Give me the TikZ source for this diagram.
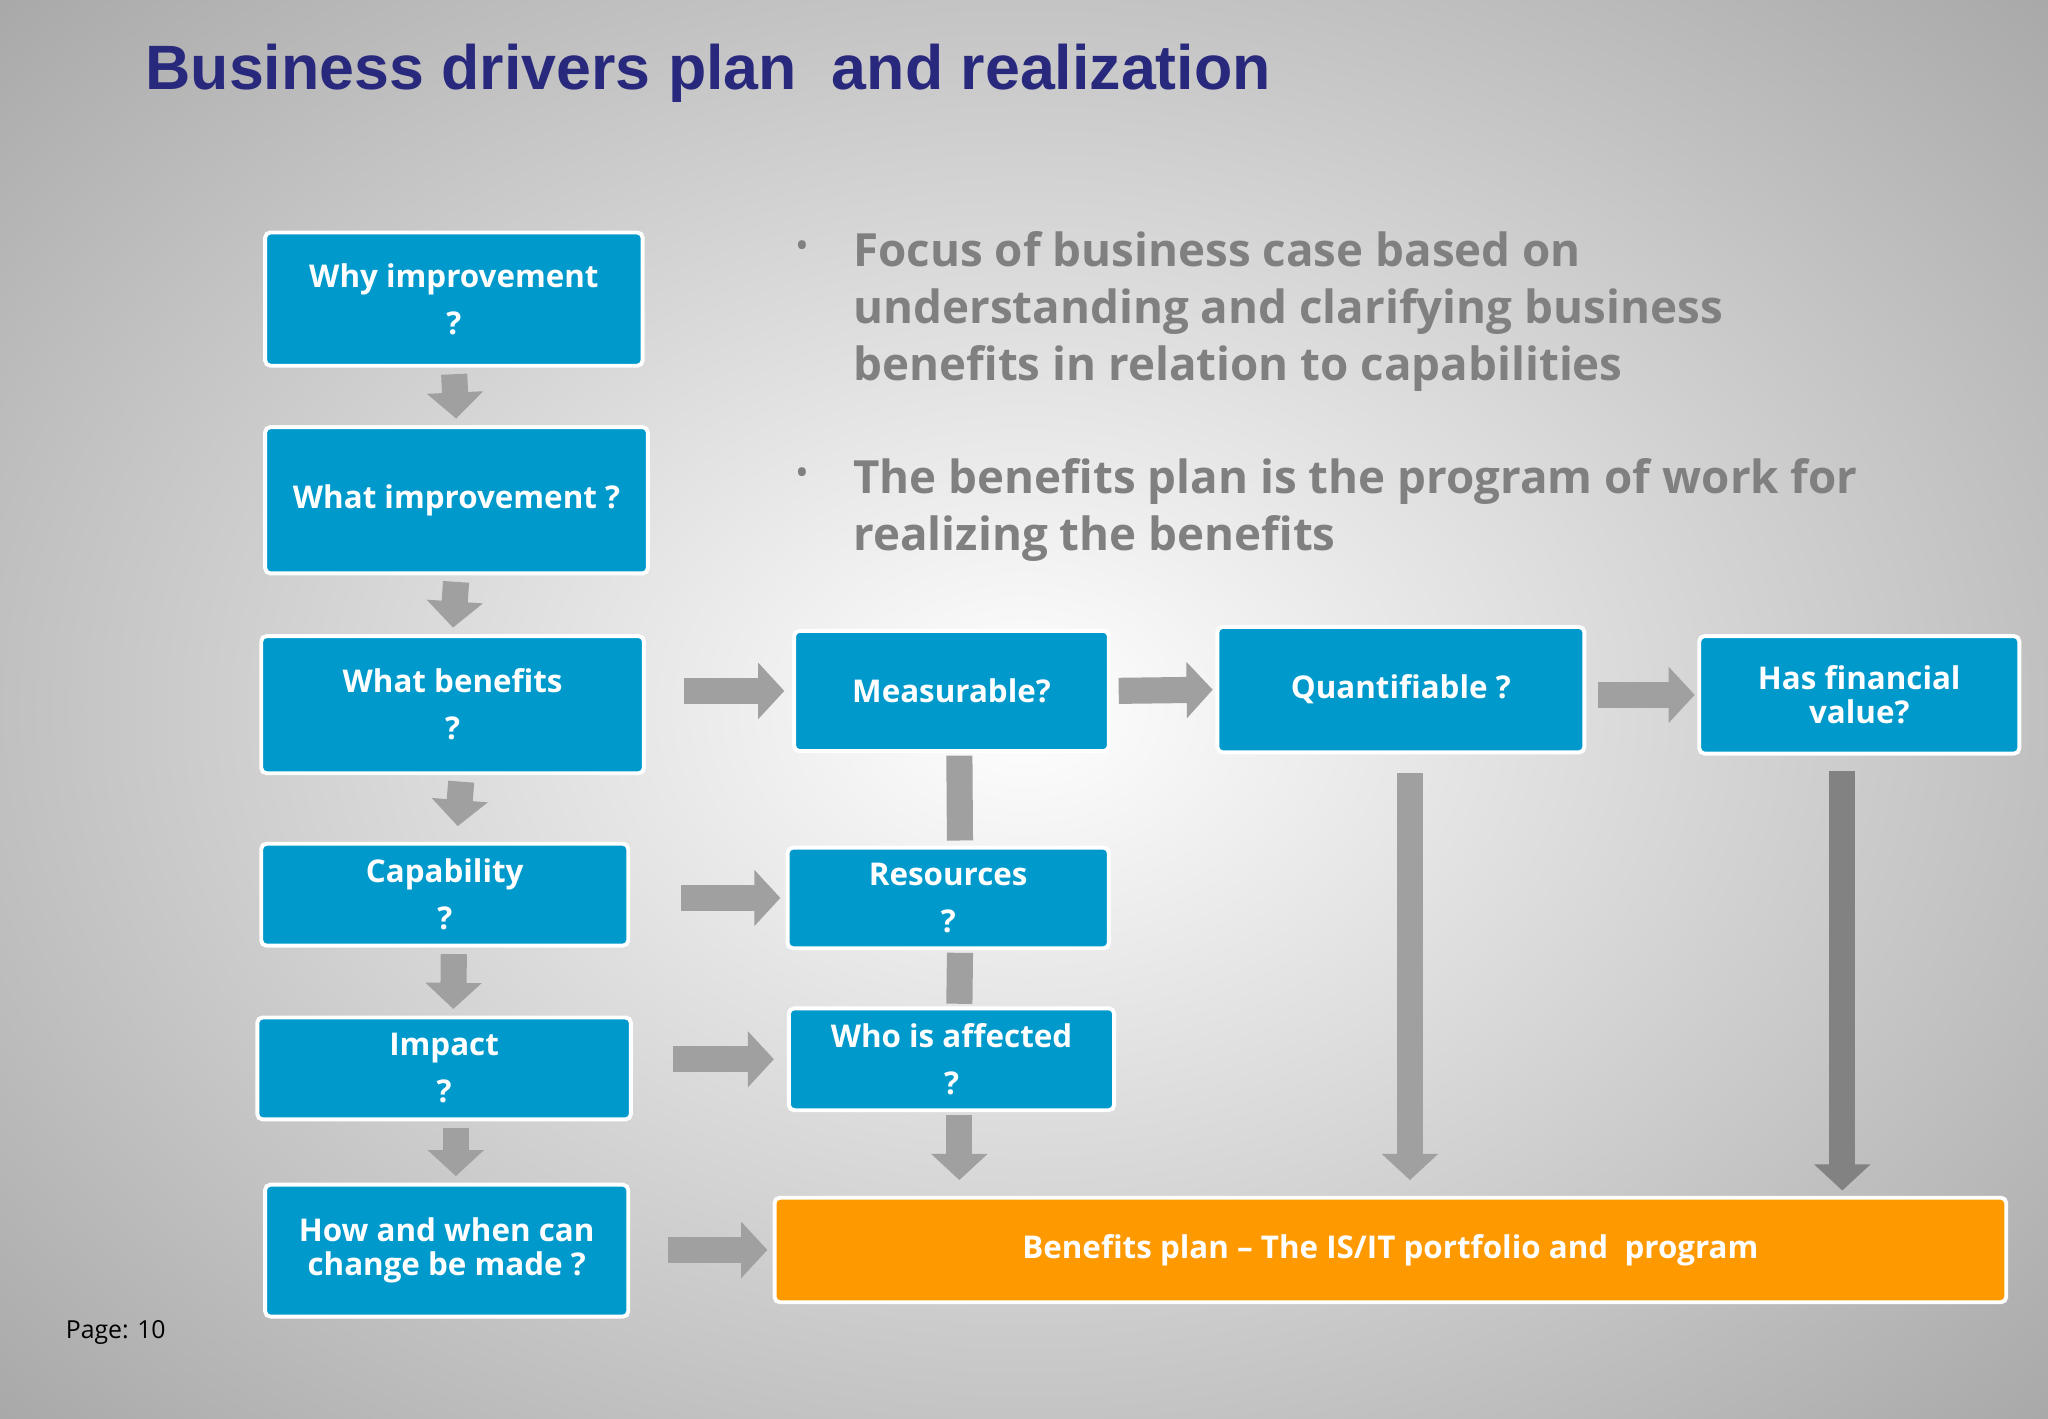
\documentclass[tikz,border=0pt]{standalone}
\usepackage{fontspec}
\setmainfont{Open Sans}
\newfontfamily\titlefont{Liberation Sans}
\usetikzlibrary{arrows.meta}
\definecolor{boxblue}{RGB}{0,153,204}
\definecolor{plan}{RGB}{255,153,0}
\definecolor{arrgray}{RGB}{160,160,160}
\definecolor{darkarr}{RGB}{130,130,130}
\definecolor{titleblue}{RGB}{40,40,125}
\definecolor{bultext}{RGB}{128,128,128}
\begin{document}
\begin{tikzpicture}[x=0.5pt,y=-0.5pt,
  box/.style={draw=white,line width=1.5pt,fill=boxblue,text=white,font=\bfseries\fontsize{12}{18}\selectfont,align=center,inner sep=2pt,rounded corners=2pt},
  tight/.style={font=\bfseries\fontsize{12}{13}\selectfont},
  barrow/.style={draw=arrgray,line width=10pt,-{Triangle[width=21pt,length=10pt]}},
  bar/.style={draw=arrgray,line width=10pt},
  bul/.style={anchor=north west,align=left,text=bultext,font=\bfseries\fontsize{17.5}{21.7}\selectfont,inner sep=0pt}]
\useasboundingbox (0,0) rectangle (1568,1086);
\shade[inner color=white,outer color=gray!68] (-300,-250) rectangle (1868,1336);
\node[anchor=west,text=titleblue,font=\titlefont\bfseries\fontsize{24}{28}\selectfont,inner sep=0pt] (title) at (111,56) {Business drivers plan\ \ and realization};
\node[anchor=west,font=\fontsize{9.5}{11}\selectfont,inner sep=0pt] (page) at (50,1020) {Page: 10};
\node[text=bultext,font=\fontsize{14}{14}\selectfont] (b1) at (614,191) {•};
\node[text=bultext,font=\fontsize{14}{14}\selectfont] (b2) at (614,365) {•};
\node[bul] (t1) at (653,177) {Focus of business case based on\\understanding and clarifying business\\benefits in relation to capabilities};
\node[bul] (t2) at (653,351) {The benefits plan is the program of work for\\realizing the benefits};
\node[box,minimum width=144.5pt,minimum height=51pt] (why) at (347.5,229) {Why improvement\\?};
\node[box,minimum width=146.5pt,minimum height=56pt] (whatimp) at (349.5,383) {What improvement ?};
\node[box,minimum width=146.5pt,minimum height=52.5pt] (ben) at (346.5,539.5) {What benefits\\?};
\node[box,minimum width=140.5pt,minimum height=39pt] (cap) at (340.5,685) {Capability\\?};
\node[box,minimum width=143pt,minimum height=39pt] (imp) at (340,818) {Impact\\?};
\node[box,tight,minimum width=139pt,minimum height=50.5pt] (how) at (342,957.5) {How and when can\\change be made ?};
\node[box,minimum width=120.5pt,minimum height=46pt] (meas) at (728.5,529) {Measurable?};
\node[box,minimum width=140.5pt,minimum height=48pt] (quant) at (1072.5,528) {Quantifiable ?};
\node[box,tight,minimum width=122.5pt,minimum height=45pt] (has) at (1423.5,532) {Has financial\\value?};
\node[box,minimum width=123pt,minimum height=38.5pt] (res) at (726,687.5) {Resources\\?};
\node[box,minimum width=124.5pt,minimum height=39pt] (who) at (728.5,811) {Who is affected\\?};
\node[box,fill=plan,minimum width=471.5pt,minimum height=40pt] (plan) at (1064.5,957) {Benefits plan -- The IS/IT portfolio and\ \ program};
% left column down arrows
\draw[barrow,shorten <=2.5pt,shorten >=2.5pt] (why.south) -- (whatimp.north);
\draw[barrow,shorten <=2.5pt,shorten >=2.5pt] (whatimp.south) -- (ben.north);
\draw[barrow,shorten <=2.5pt,shorten >=6pt] ([xshift=3.5pt]ben.south) -- ([xshift=4.5pt]cap.north);
\draw[barrow,shorten <=2.5pt,shorten >=2.5pt] ([xshift=3.5pt]cap.south) -- ([xshift=3.5pt]imp.north);
\draw[barrow,shorten <=2.5pt,shorten >=2.5pt] ([xshift=4.5pt]imp.south) -- ([xshift=3.5pt]how.north);
% horizontal arrows
\draw[barrow,shorten <=14.5pt,shorten >=3pt] (ben.east |- meas) -- (meas.west);
\draw[barrow,shorten <=19.5pt,shorten >=2pt] (cap.east |- res) -- (res.west);
\draw[barrow,shorten <=15.5pt,shorten >=5pt] (imp.east |- who) -- (who.west);
\draw[barrow,shorten <=14.5pt,shorten >=2pt] (how.east |- plan) -- (plan.west);
\draw[barrow,shorten <=3pt,shorten >=1pt] (meas.east) -- (quant.west);
\draw[barrow,shorten <=4.5pt,shorten >=1pt] (quant.east |- has) -- (has.west);
% vertical
\draw[bar,shorten <=1pt,shorten >=2pt] ([xshift=3pt]meas.south) -- ([xshift=4.5pt]res.north);
\draw[bar,shorten <=1pt,shorten >=1pt] ([xshift=4.5pt]res.south) -- ([xshift=3pt]who.north);
\draw[barrow,shorten <=1pt,shorten >=6pt] ([xshift=3pt]who.south) -- ([xshift=3pt]who.south |- plan.north);
\draw[barrow,shorten <=7pt,shorten >=6pt] ([xshift=3.5pt]quant.south) -- ([xshift=3.5pt]quant.south |- plan.north);
\draw[barrow,draw=darkarr,shorten <=6pt,shorten >=2pt] ([xshift=-6.5pt]has.south) -- ([xshift=-6.5pt]has.south |- plan.north);
\end{tikzpicture}
\end{document}
